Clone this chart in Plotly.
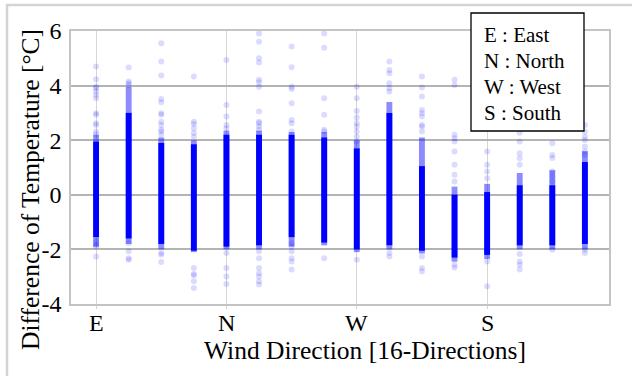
import plotly.graph_objects as go

# 16 wind directions, index 0 = E, 4 = N, 8 = W, 12 = S
dir_index = list(range(16))
tick_positions = [0, 4, 8, 12]
tick_labels = ["E", "N", "W", "S"]
y_tick_values = [-4, -2, 0, 2, 4, 6]
y_tick_labels = ["-4", "-2", "0", "2", "4", "6"]

# dense core of each column (solid)
core_hi = [1.95, 3.0, 1.9, 1.85, 2.2, 2.2, 2.2, 2.1, 1.7, 3.0, 1.05, 0.0, 0.1, 0.35, 0.35, 1.2]
core_lo = [-1.55, -1.6, -1.8, -2.05, -1.9, -1.85, -1.55, -1.75, -2.0, -1.85, -2.05, -2.3, -2.2, -1.85, -1.85, -1.8]
# medium-density tails of each column
fade_hi = [2.2, 3.95, 2.1, 2.0, 2.35, 2.35, 2.3, 2.3, 2.0, 3.4, 2.1, 0.3, 0.4, 0.8, 0.9, 1.6]
fade_lo = [-1.9, -1.8, -2.0, -2.1, -2.0, -2.0, -1.9, -1.85, -2.1, -2.0, -2.15, -2.45, -2.35, -2.0, -2.0, -2.0]

# sparse individual points per column
outliers = [
    [4.7, 4.23, 3.96, 3.9, 3.78, 3.66, 3.54, 2.99, 2.93, 2.62, 2.56, 2.32, 2.22, -1.71, -1.83, -1.89, -2.26],
    [4.66, 4.15, 4.09, 4.02, -1.77, -2.07, -2.32, -2.38],
    [5.55, 4.88, 4.37, 3.51, 3.39, 2.99, 2.93, 2.68, 2.56, 2.38, 2.32, 2.2, -2.13, -2.2, -2.46],
    [4.33, 2.68, 2.59, 2.44, 2.26, 2.13, -2.68, -2.9, -2.95, -3.17, -3.41],
    [4.94, 3.29, 2.87, 2.56, 2.44, -2.13, -2.68, -2.99, -3.27],
    [5.91, 5.61, 5.0, 4.85, 4.21, 4.12, 3.96, 3.05, 2.68, 2.62, 2.5, 2.38, -2.07, -2.32, -2.68, -2.87, -2.99, -3.17, -3.29],
    [5.43, 4.67, 3.96, 3.88, 3.35, 2.74, 2.62, 2.32, -1.77, -1.89, -2.07, -2.32, -2.44, -2.74],
    [5.91, 5.39, 3.54, 2.93, 2.38, 2.32, -2.32],
    [3.96, 3.54, 3.07, 2.83, 2.62, 2.5, 2.32, 2.13, 1.95, -2.38],
    [4.88, 4.57, 4.45, 4.09, 3.9, 3.78, -2.13, -2.26],
    [4.33, 3.93, 3.6, 3.11, 2.99, 2.87, 2.56, 2.5, 2.32, -2.26, -2.68, -2.8],
    [4.21, 4.02, 2.2, 2.07, 1.95, 1.59, 1.1, 0.73, 0.49, -2.56, -2.66],
    [1.59, 1.1, 0.85, 0.61, -2.44, -3.35],
    [2.27, 1.95, 1.52, 1.34, 1.1, -2.17, -2.44, -2.56, -2.74],
    [1.89, 1.46, 1.35, 0.85, 0.67, 0.49, -2.01],
    [2.56, 2.32, 2.13, 2.01, 1.77, 1.59, 1.46, -2.01, -2.13],
]

legend_lines = ["E : East", "N : North", "W : West", "S : South"]

FONT = "Liberation Serif, Times New Roman, serif"

fig = go.Figure()

fig.add_trace(go.Bar(
    x=dir_index, y=[h - l for h, l in zip(fade_hi, fade_lo)], base=fade_lo,
    width=0.18, marker=dict(color="rgba(0,0,255,0.45)", line=dict(width=0)),
))
fig.add_trace(go.Bar(
    x=dir_index, y=[h - l for h, l in zip(core_hi, core_lo)], base=core_lo,
    width=0.18, marker=dict(color="rgb(0,0,255)", line=dict(width=0)),
))

ox, oy = [], []
for i, vals in zip(dir_index, outliers):
    for v in vals:
        ox.append(i)
        oy.append(v)
fig.add_trace(go.Scatter(
    x=ox, y=oy, mode="markers",
    marker=dict(size=6, color="rgba(0,0,255,0.14)", line=dict(width=0)),
))

L, R, T, B = 71, 609, 31, 304
W_, H_ = R - L, B - T


def px(x):
    return (x - L) / W_


def py(y):
    return (B - y) / H_


fig.update_layout(
    width=632, height=376,
    margin=dict(l=L, r=632 - R, t=T, b=376 - B),
    paper_bgcolor="white", plot_bgcolor="white",
    showlegend=False, barmode="overlay", hovermode=False,
    font=dict(family=FONT, size=24, color="black"),
    xaxis=dict(
        range=[-0.77, 15.74], tickmode="array", tickvals=tick_positions, ticktext=tick_labels,
        showticklabels=False,
        showgrid=True, gridcolor="#d6d6d6", gridwidth=1,
        showline=True, linecolor="#c4c4c4", linewidth=1.5, mirror=True,
        ticks="outside", ticklen=3, tickcolor="#d6d6d6",
        zeroline=False,
    ),
    yaxis=dict(
        range=[-4, 6], tickmode="array", tickvals=y_tick_values, ticktext=y_tick_labels,
        showgrid=True, gridcolor="#b4b4b4", gridwidth=1.5,
        showline=True, linecolor="#c4c4c4", linewidth=1.5, mirror=True,
        zeroline=False, ticks="", ticklabelstandoff=3,
        tickfont=dict(size=24, color="black"),
    ),
)

shapes = [
    # outer frame
    dict(type="rect", xref="paper", yref="paper",
         x0=px(7), x1=px(660), y0=py(5), y1=py(400),
         line=dict(color="#d4d4d4", width=2.5), fillcolor="rgba(0,0,0,0)", layer="below"),
    # legend box
    dict(type="rect", xref="paper", yref="paper",
         x0=px(471), x1=px(584), y0=py(131), y1=py(13),
         line=dict(color="black", width=1.3), fillcolor="white", layer="above"),
]
fig.update_layout(shapes=shapes)

ann = []
for pos, lab in zip(tick_positions, tick_labels):
    ann.append(dict(text=lab, xref="x", yref="paper", x=pos, y=py(323),
                    xanchor="center", yanchor="middle", showarrow=False,
                    font=dict(family=FONT, size=24, color="black")))
for i, txt in enumerate(legend_lines):
    ann.append(dict(text=txt, xref="paper", yref="paper", x=px(482), y=py(35 + 26 * i),
                    xanchor="left", yanchor="middle", showarrow=False,
                    font=dict(family=FONT, size=21, color="black")))
ann.append(dict(text="Wind Direction [16-Directions]", xref="paper", yref="paper",
                x=px(365), y=py(350), xanchor="center", yanchor="middle", showarrow=False,
                font=dict(family=FONT, size=25.5)))
ann.append(dict(text="Difference of Temperature [°C]", xref="paper", yref="paper",
                x=px(31), y=py(190), xanchor="center", yanchor="middle", textangle=-90,
                showarrow=False, font=dict(family=FONT, size=25.5)))
ann.append(dict(text="(a)", xref="paper", yref="paper", x=px(165), y=py(1),
                xanchor="center", yanchor="bottom", showarrow=False,
                font=dict(family=FONT, size=24)))
fig.update_layout(annotations=ann)

fig.write_html("out.html")
